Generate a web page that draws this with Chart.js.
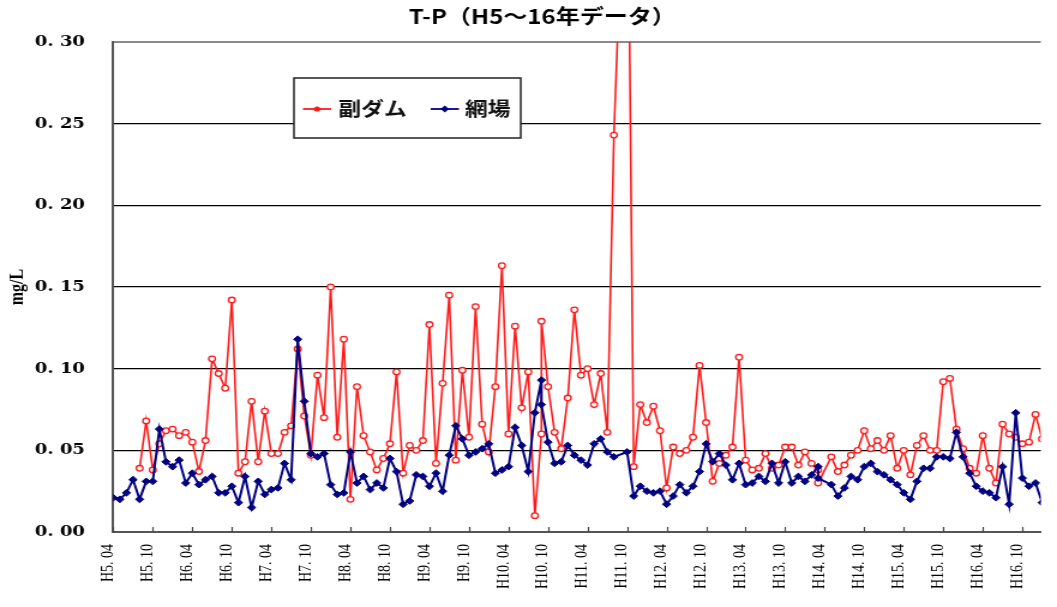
<!DOCTYPE html>
<html>
<head>
<meta charset="utf-8">
<script src="https://cdn.jsdelivr.net/npm/chart.js@4/dist/chart.umd.min.js"></script>
<style>
html,body{margin:0;padding:0;background:#fff;overflow:hidden;}
</style>
</head>
<body>
<canvas id="c" width="881" height="607" style="width:1057px;height:607px;display:block"></canvas>
<script>
// ---------- data ----------
const chartTitle = 'T-P（H5～16年データ）';
const yAxisTitle = 'mg/L';
const seriesNames = ['副ダム', '網場'];

// x tick labels, one every 6 months starting at H5.04
const xTickLabels = ['H5. 04','H5. 10','H6. 04','H6. 10','H7. 04','H7. 10','H8. 04','H8. 10',
  'H9. 04','H9. 10','H10. 04','H10. 10','H11. 04','H11. 10','H12. 04','H12. 10',
  'H13. 04','H13. 10','H14. 04','H14. 10','H15. 04','H15. 10','H16. 04','H16. 10'];
const yTickLabels = ['0. 00','0. 05','0. 10','0. 15','0. 20','0. 25','0. 30'];

// sampling month of each observation (months since H5.04)
const sampleMonth = [
  0,1,2,3,4,5,6,7,8,9,10,11,12,13,14,15,16,17,18,19,
  20,21,22,23,24,25,26,27,28,29,30,31,32,33,34,35,36,37,38,39,
  40,41,42,43,44,45,46,47,48,49,50,51,52,53,54,55,56,57,58,59,
  60,61,62,63,64,65,65,66,67,68,69,70,71,72,73,74,75,76,78,79,
  80,81,82,83,84,85,86,87,88,89,90,91,92,93,94,95,96,97,98,99,
  100,101,102,103,104,105,106,107,107,109,110,111,112,113,114,115,116,117,118,119,
  120,121,122,123,124,125,126,127,128,129,130,131,132,133,134,135,136,137,138,139,
  140,141];

// 副ダム (mg/L)
const fukuDam = [
  null,null,null,null,0.039,0.068,0.038,0.054,0.062,0.063,0.059,0.061,0.055,0.037,0.056,0.106,0.097,0.088,0.142,0.036,
  0.043,0.080,0.043,0.074,0.048,0.048,0.061,0.065,0.112,0.071,0.047,0.096,0.070,0.150,0.058,0.118,0.020,0.089,0.059,0.049,
  0.038,0.045,0.054,0.098,0.036,0.053,0.050,0.056,0.127,0.042,0.091,0.145,0.044,0.099,0.058,0.138,0.066,0.049,0.089,0.163,
  0.060,0.126,0.076,0.098,0.010,0.060,0.129,0.089,0.061,0.051,0.082,0.136,0.096,0.100,0.078,0.097,0.061,0.243,0.460,0.040,
  0.078,0.067,0.077,0.062,0.027,0.052,0.048,0.050,0.058,0.102,0.067,0.031,0.042,0.047,0.052,0.107,0.044,0.038,0.039,0.048,
  0.039,0.041,0.052,0.052,0.041,0.049,0.042,0.038,0.030,0.046,0.037,0.041,0.047,0.050,0.062,0.051,0.056,0.050,0.059,0.039,
  0.050,0.035,0.053,0.059,0.050,0.050,0.092,0.094,0.063,0.051,0.039,0.036,0.059,0.039,0.030,0.066,0.060,0.058,0.054,0.055,
  0.072,0.057];

// 網場 (mg/L)
const amiba = [
  0.021,0.020,0.024,0.032,0.020,0.031,0.031,0.063,0.043,0.040,0.044,0.030,0.036,0.029,0.032,0.034,0.024,0.024,0.028,0.018,
  0.034,0.015,0.031,0.023,0.026,0.027,0.042,0.032,0.118,0.080,0.048,0.046,0.048,0.029,0.023,0.024,0.049,0.030,0.034,0.026,
  0.030,0.027,0.045,0.037,0.017,0.019,0.035,0.034,0.028,0.036,0.025,0.047,0.065,0.057,0.047,0.049,0.051,0.054,0.036,0.038,
  0.040,0.064,0.053,0.037,0.073,0.093,0.078,0.055,0.042,0.043,0.053,0.047,0.044,0.041,0.054,0.057,0.049,0.046,0.049,0.022,
  0.028,0.025,0.024,0.025,0.017,0.022,0.029,0.024,0.028,0.037,0.054,0.043,0.048,0.041,0.032,0.042,0.029,0.030,0.034,0.031,
  0.042,0.030,0.043,0.030,0.034,0.031,0.035,0.040,0.033,0.029,0.022,0.027,0.034,0.032,0.040,0.042,0.037,0.035,0.032,0.029,
  0.024,0.020,0.031,0.039,0.039,0.046,0.046,0.045,0.061,0.046,0.036,0.028,0.025,0.024,0.021,0.040,0.017,0.073,0.033,0.028,
  0.030,0.018];

// ---------- layout / style ----------
const RED = '#ff1a1a';
const NAVY = '#000080';
const X_MAX = 140.8;       // visible month range (chart is cropped on the right)

const titlePlugin = {
  id: 'titleText',
  afterDraw(chart) {
    const ctx = chart.ctx;
    ctx.save();
    ctx.font = 'bold 20px "Noto Sans CJK JP"';
    ctx.fillStyle = '#000';
    ctx.textAlign = 'center';
    ctx.textBaseline = 'middle';
    ctx.fillText(chartTitle, 452, 16);
    ctx.restore();
  }
};

const xTickMarks = {
  id: 'xTickMarks',
  afterDraw(chart) {
    const xs = chart.scales.x, ca = chart.chartArea, ctx = chart.ctx;
    ctx.save();
    ctx.strokeStyle = '#444';
    ctx.lineWidth = 1.2;
    ctx.beginPath();
    xs.ticks.forEach(t => {
      const px = Math.round(xs.getPixelForValue(t.value)) + 0.5;
      ctx.moveTo(px, ca.bottom);
      ctx.lineTo(px, ca.bottom - 5);
    });
    ctx.stroke();
    ctx.restore();
  }
};

const boxLegend = {
  id: 'boxLegend',
  afterDraw(chart) {
    const ctx = chart.ctx;
    const ds = chart.data.datasets;
    const L = 245, T = 78, R = 434, B = 138, cy = 109;
    ctx.save();
    ctx.fillStyle = '#fff';
    ctx.fillRect(L, T, R - L, B - T);
    ctx.strokeStyle = '#222';
    ctx.lineWidth = 1.5;
    ctx.strokeRect(L, T, R - L, B - T);
    const items = [
      {x0: 252.5, x1: 276, tx: 282, ds: ds[0]},
      {x0: 359, x1: 382.5, tx: 387.5, ds: ds[1]}
    ];
    items.forEach(it => {
      ctx.strokeStyle = it.ds.borderColor;
      ctx.lineWidth = 1.8;
      ctx.beginPath();
      ctx.moveTo(it.x0, cy);
      ctx.lineTo(it.x1, cy);
      ctx.stroke();
      const mx = (it.x0 + it.x1) / 2;
      ctx.fillStyle = it.ds.borderColor;
      ctx.beginPath();
      if (it.ds.pointStyle === 'rectRot') {
        ctx.moveTo(mx, cy - 3.5); ctx.lineTo(mx + 3.5, cy); ctx.lineTo(mx, cy + 3.5); ctx.lineTo(mx - 3.5, cy);
        ctx.closePath();
      } else {
        ctx.arc(mx, cy, 2.6, 0, Math.PI * 2);
      }
      ctx.fill();
      ctx.fillStyle = '#111';
      ctx.font = 'bold 19px "Noto Sans CJK JP"';
      ctx.textAlign = 'left';
      ctx.textBaseline = 'middle';
      ctx.fillText(it.ds.label, it.tx, cy);
    });
    ctx.restore();
  }
};

const toPoints = vals => sampleMonth.map((m, k) => ({x: m, y: vals[k]}));

new Chart(document.getElementById('c'), {
  type: 'line',
  data: {
    datasets: [
      {
        label: seriesNames[0],
        data: toPoints(fukuDam),
        borderColor: RED,
        backgroundColor: RED,
        borderWidth: 1.6,
        pointStyle: 'circle',
        pointRadius: 2.8,
        pointBorderWidth: 1.3,
        pointBackgroundColor: '#fff',
        pointBorderColor: RED,
        spanGaps: true,
        tension: 0,
        order: 2
      },
      {
        label: seriesNames[1],
        data: toPoints(amiba),
        borderColor: NAVY,
        backgroundColor: NAVY,
        borderWidth: 2,
        pointStyle: 'rectRot',
        pointRadius: 3.4,
        pointBorderWidth: 1,
        pointBackgroundColor: NAVY,
        pointBorderColor: NAVY,
        spanGaps: true,
        tension: 0,
        order: 1
      }
    ]
  },
  options: {
    responsive: false,
    devicePixelRatio: 1,
    animation: false,
    events: [],
    layout: {padding: {top: 42, left: 0, right: 0, bottom: 0}},
    plugins: {
      legend: {display: false},
      tooltip: {enabled: false},
      title: {display: false}
    },
    scales: {
      x: {
        type: 'linear',
        min: 0,
        max: X_MAX,
        afterBuildTicks: s => { s.ticks = xTickLabels.map((_, k) => ({value: k * 6})); },
        afterFit: s => { s.height = 75; },
        grid: {display: false, drawTicks: false},
        border: {display: true, color: '#555', width: 2},
        ticks: {
          autoSkip: false,
          minRotation: 90,
          maxRotation: 90,
          padding: 12,
          labelOffset: -4,
          color: '#000',
          font: {family: '"Liberation Serif"', size: 14},
          callback: v => xTickLabels[Math.round(v / 6)]
        }
      },
      y: {
        min: 0,
        max: 0.30,
        afterBuildTicks: s => { s.ticks = yTickLabels.map((_, k) => ({value: k * 0.05})); },
        afterFit: s => { s.width = 94.4; },
        grid: {
          drawTicks: false,
          color: c => c.index === 6 ? '#8a8a8a' : (c.index === 0 ? '#555' : '#000'),
          lineWidth: c => (c.index === 6 || c.index === 0) ? 2 : 1.2
        },
        border: {display: true, color: '#555', width: 2},
        ticks: {
          padding: 23.6,
          color: '#000',
          font: {family: '"DejaVu Serif"', weight: 'bold', size: 15},
          callback: (v, i) => yTickLabels[i]
        },
        title: {
          display: true,
          text: yAxisTitle,
          color: '#000',
          font: {family: '"Liberation Serif"', weight: 'bold', size: 16},
          padding: {top: 5, bottom: 0}
        }
      }
    }
  },
  plugins: [titlePlugin, xTickMarks, boxLegend]
});
</script>
</body>
</html>
